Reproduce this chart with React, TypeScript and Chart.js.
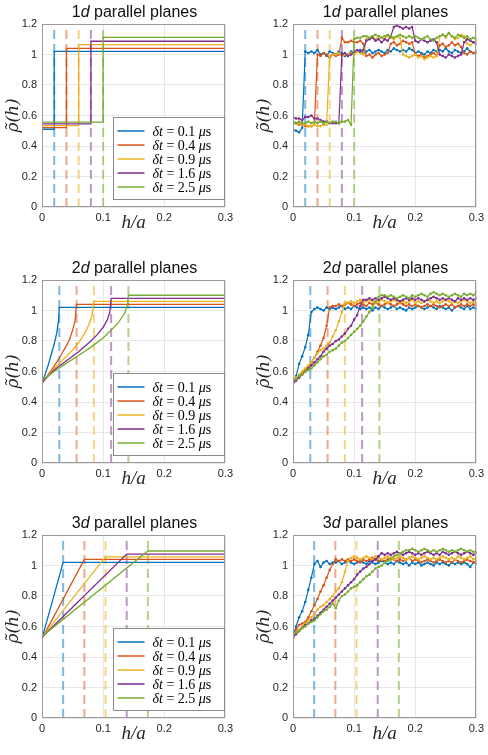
import React, { useEffect, useRef } from 'react';
import { Chart, registerables } from 'chart.js';
Chart.register(...registerables);

// ---------- labels / categories ----------
const DT_LABELS = ['0.1', '0.4', '0.9', '1.6', '2.5'];
const X_TICKS = [0, 0.1, 0.2, 0.3];
const Y_TICKS = [0, 0.2, 0.4, 0.6, 0.8, 1, 1.2];

// dashed reference positions h0 for each dimension
const H0_1D = [0.02, 0.04, 0.06, 0.08, 0.1];
const H0_2D = [0.0283, 0.0566, 0.0849, 0.1131, 0.1414];
const H0_3D = [0.0346, 0.0693, 0.1039, 0.1386, 0.1732];

// ---------- theory curves (left column) ----------
const T1_BLUE_X = [0, 0.02, 0.02, 0.3];
const T1_BLUE_Y = [0.51, 0.51, 1.02, 1.02];
const T1_ORANGE_X = [0, 0.04, 0.04, 0.3];
const T1_ORANGE_Y = [0.52, 0.52, 1.04, 1.04];
const T1_YELLOW_X = [0, 0.06, 0.06, 0.3];
const T1_YELLOW_Y = [0.533, 0.533, 1.065, 1.065];
const T1_PURPLE_X = [0, 0.08, 0.08, 0.3];
const T1_PURPLE_Y = [0.545, 0.545, 1.087, 1.087];
const T1_GREEN_X = [0, 0.1, 0.1, 0.3];
const T1_GREEN_Y = [0.557, 0.557, 1.112, 1.112];

const T2_BLUE_X = [0, 0.005, 0.01, 0.015, 0.02, 0.024, 0.027, 0.0283, 0.3];
const T2_BLUE_Y = [0.52, 0.58, 0.64, 0.71, 0.78, 0.85, 0.93, 1.02, 1.02];
const T2_ORANGE_X = [0, 0.01, 0.02, 0.03, 0.04, 0.045, 0.05, 0.054, 0.0566, 0.3];
const T2_ORANGE_Y = [0.52, 0.58, 0.635, 0.7, 0.77, 0.81, 0.87, 0.93, 1.04, 1.04];
const T2_YELLOW_X = [0, 0.02, 0.04, 0.05, 0.06, 0.07, 0.077, 0.082, 0.0849, 0.3];
const T2_YELLOW_Y = [0.53, 0.62, 0.7, 0.74, 0.79, 0.85, 0.91, 0.97, 1.06, 1.06];
const T2_PURPLE_X = [0, 0.02, 0.04, 0.06, 0.08, 0.09, 0.1, 0.107, 0.111, 0.1131, 0.3];
const T2_PURPLE_Y = [0.53, 0.61, 0.67, 0.73, 0.8, 0.84, 0.89, 0.94, 0.99, 1.08, 1.08];
const T2_GREEN_X = [0, 0.02, 0.04, 0.06, 0.08, 0.1, 0.113, 0.125, 0.135, 0.14, 0.1414, 0.3];
const T2_GREEN_Y = [0.54, 0.6, 0.655, 0.705, 0.76, 0.82, 0.87, 0.92, 0.98, 1.04, 1.1, 1.1];

const T3_BLUE_X = [0, 0.0346, 0.3];
const T3_BLUE_Y = [0.52, 1.02, 1.02];
const T3_ORANGE_X = [0, 0.0693, 0.3];
const T3_ORANGE_Y = [0.52, 1.04, 1.04];
const T3_YELLOW_X = [0, 0.1039, 0.3];
const T3_YELLOW_Y = [0.53, 1.057, 1.057];
const T3_PURPLE_X = [0, 0.1386, 0.3];
const T3_PURPLE_Y = [0.53, 1.075, 1.075];
const T3_GREEN_X = [0, 0.1732, 0.3];
const T3_GREEN_Y = [0.535, 1.095, 1.095];

// ---------- simulation (right column) ----------
const H_SIM = [
  0, 0.005, 0.01, 0.015, 0.02, 0.025, 0.03, 0.035, 0.04, 0.045,
  0.05, 0.055, 0.06, 0.065, 0.07, 0.075, 0.08, 0.085, 0.09, 0.095,
  0.1, 0.105, 0.11, 0.115, 0.12, 0.125, 0.13, 0.135, 0.14, 0.145,
  0.15, 0.155, 0.16, 0.165, 0.17, 0.175, 0.18, 0.185, 0.19, 0.195,
  0.2, 0.205, 0.21, 0.215, 0.22, 0.225, 0.23, 0.235, 0.24, 0.245,
  0.25, 0.255, 0.26, 0.265, 0.27, 0.275, 0.28, 0.285, 0.29, 0.295,
  0.3,
];

const S1_BLUE = [
  0.51, 0.50, 0.49, 0.52, 1.02, 1.01, 1.02, 1.01, 1.03, 1.00,
  1.01, 0.99, 1.02, 1.01, 1.00, 1.02, 1.01, 0.99, 1.00, 1.02,
  1.01, 1.02, 1.03, 1.01, 1.02, 1.03, 1.01, 1.02, 1.03, 1.02,
  1.01, 1.03, 1.02, 1.04, 1.03, 1.02, 1.03, 1.02, 1.04, 1.03,
  1.01, 1.02, 1.01, 1.00, 1.02, 1.01, 1.03, 1.02, 1.03, 1.02,
  1.04, 1.02, 1.01, 1.03, 1.02, 1.01, 1.02, 1.04, 1.02, 1.01,
  1.02,
];
const S1_ORANGE = [
  0.55, 0.55, 0.54, 0.54, 0.53, 0.53, 0.53, 0.54, 1.00, 0.99,
  1.01, 1.00, 0.98, 1.00, 0.99, 1.00, 1.11, 1.08, 1.08, 1.09,
  1.08, 1.08, 1.09, 1.07, 0.99, 1.00, 0.98, 1.00, 1.01, 0.99,
  1.00, 1.01, 1.07, 1.08, 1.06, 1.07, 1.09, 1.08, 1.07, 1.08,
  1.00, 0.99, 1.00, 0.98, 0.99, 1.00, 1.01, 0.99, 1.06, 1.07,
  1.05, 1.06, 1.08, 1.06, 1.07, 1.05, 1.01, 1.00, 1.02, 1.01,
  1.01,
];
const S1_YELLOW = [
  0.56, 0.55, 0.55, 0.54, 0.54, 0.53, 0.53, 0.54, 0.53, 0.53,
  0.54, 0.54, 0.99, 1.00, 1.00, 1.01, 0.99, 1.00, 1.00, 1.01,
  1.00, 1.02, 1.01, 1.00, 1.10, 1.11, 1.12, 1.10, 1.12, 1.11,
  1.10, 1.12, 1.11, 1.10, 1.12, 1.11, 1.00, 0.99, 0.98, 0.99,
  1.00, 0.98, 0.99, 0.97, 0.98, 0.99, 0.98, 0.99, 1.12, 1.13,
  1.11, 1.14, 1.12, 1.10, 1.11, 1.13, 1.12, 1.07, 1.06, 1.08,
  1.09,
];
const S1_PURPLE = [
  0.59, 0.58, 0.58, 0.57, 0.59, 0.59, 0.60, 0.58, 0.58, 0.57,
  0.56, 0.56, 0.55, 0.55, 0.55, 0.55, 1.00, 1.01, 0.99, 1.00,
  1.02, 1.03, 1.02, 1.03, 1.09, 1.10, 1.11, 1.09, 1.10, 1.08,
  1.10, 1.09, 1.12, 1.18, 1.19, 1.18, 1.17, 1.18, 1.17, 1.18,
  1.09, 1.08, 1.10, 1.09, 1.08, 1.09, 1.10, 1.08, 1.00, 0.99,
  0.98, 1.00, 0.99, 0.98, 0.99, 1.00, 1.08, 1.10, 1.09, 1.08,
  1.07,
];
const S1_GREEN = [
  0.56, 0.55, 0.56, 0.55, 0.55, 0.56, 0.55, 0.56, 0.55, 0.56,
  0.55, 0.56, 0.55, 0.56, 0.56, 0.55, 0.56, 0.56, 0.57, 0.54,
  1.10, 1.11, 1.11, 1.12, 1.12, 1.11, 1.12, 1.13, 1.12, 1.11,
  1.12, 1.13, 1.12, 1.11, 1.12, 1.13, 1.12, 1.11, 1.12, 1.11,
  1.12, 1.11, 1.10, 1.11, 1.12, 1.10, 1.09, 1.11, 1.12, 1.13,
  1.12, 1.14, 1.12, 1.11, 1.13, 1.12, 1.11, 1.12, 1.10, 1.11,
  1.10,
];

const S2_BLUE = [
  0.53, 0.57, 0.65, 0.70, 0.76, 0.84, 0.99, 1.01, 1.02, 1.01,
  1.00, 1.02, 1.01, 1.02, 1.01, 1.02, 1.03, 1.01, 1.02, 1.01,
  1.03, 1.02, 1.01, 1.02, 1.01, 1.02, 1.00, 1.02, 1.01, 1.03,
  1.02, 1.01, 1.02, 1.03, 1.01, 1.02, 1.01, 1.00, 1.02, 1.01,
  1.02, 1.03, 1.02, 1.01, 1.02, 1.03, 1.02, 1.01, 1.03, 1.02,
  1.01, 1.02, 1.00, 1.02, 1.03, 1.02, 1.01, 1.03, 1.01, 1.02,
  1.01,
];
const S2_ORANGE = [
  0.53, 0.55, 0.57, 0.59, 0.61, 0.63, 0.66, 0.69, 0.73, 0.77,
  0.82, 0.90, 1.02, 1.03, 1.03, 1.04, 1.03, 1.04, 1.05, 1.04,
  1.03, 1.04, 1.05, 1.04, 1.03, 1.05, 1.04, 1.05, 1.04, 1.03,
  1.04, 1.05, 1.04, 1.03, 1.04, 1.05, 1.04, 1.03, 1.04, 1.03,
  1.04, 1.03, 1.02, 1.03, 1.04, 1.03, 1.04, 1.03, 1.02, 1.03,
  1.04, 1.03, 1.04, 1.02, 1.03, 1.04, 1.03, 1.04, 1.03, 1.04,
  1.03,
];
const S2_YELLOW = [
  0.54, 0.56, 0.58, 0.60, 0.62, 0.64, 0.66, 0.69, 0.72, 0.74,
  0.75, 0.77, 0.79, 0.83, 0.87, 0.93, 0.99, 1.05, 1.05, 1.06,
  1.05, 1.06, 1.07, 1.05, 1.06, 1.07, 1.06, 1.05, 1.06, 1.07,
  1.06, 1.05, 1.06, 1.07, 1.06, 1.05, 1.06, 1.05, 1.06, 1.07,
  1.05, 1.06, 1.05, 1.06, 1.07, 1.06, 1.05, 1.06, 1.05, 1.06,
  1.07, 1.06, 1.05, 1.06, 1.05, 1.06, 1.07, 1.06, 1.05, 1.06,
  1.05,
];
const S2_PURPLE = [
  0.52, 0.54, 0.56, 0.58, 0.60, 0.62, 0.64, 0.66, 0.68, 0.70,
  0.73, 0.75, 0.77, 0.78, 0.80, 0.81, 0.83, 0.85, 0.88, 0.90,
  0.94, 0.97, 1.03, 1.07, 1.07, 1.08, 1.07, 1.08, 1.07, 1.08,
  1.09, 1.08, 1.07, 1.08, 1.07, 1.06, 1.07, 1.08, 1.07, 1.08,
  1.07, 1.08, 1.07, 1.06, 1.07, 1.08, 1.09, 1.08, 1.07, 1.08,
  1.07, 1.08, 1.07, 1.06, 1.08, 1.07, 1.08, 1.07, 1.08, 1.07,
  1.08,
];
const S2_GREEN = [
  0.54, 0.55, 0.57, 0.58, 0.60, 0.61, 0.62, 0.64, 0.66, 0.68,
  0.70, 0.71, 0.73, 0.74, 0.75, 0.77, 0.79, 0.80, 0.82, 0.84,
  0.86, 0.88, 0.90, 0.93, 0.96, 0.99, 1.02, 1.06, 1.09, 1.10,
  1.10, 1.09, 1.10, 1.09, 1.08, 1.09, 1.10, 1.09, 1.08, 1.10,
  1.09, 1.10, 1.11, 1.10, 1.09, 1.11, 1.12, 1.11, 1.10, 1.11,
  1.10, 1.09, 1.10, 1.11, 1.10, 1.09, 1.11, 1.10, 1.11, 1.10,
  1.12,
];

const S3_BLUE = [
  0.53, 0.60, 0.66, 0.70, 0.76, 0.84, 0.92, 1.01, 1.03, 0.99,
  1.02, 1.03, 1.01, 1.02, 1.02, 1.03, 1.01, 1.02, 1.03, 1.02,
  1.01, 1.02, 1.03, 1.02, 1.01, 1.03, 1.02, 1.01, 1.02, 1.03,
  1.02, 1.01, 1.02, 1.01, 1.03, 1.02, 1.01, 1.02, 1.00, 1.02,
  1.01, 1.02, 1.00, 1.01, 1.02, 1.01, 1.00, 1.02, 1.01, 1.02,
  1.01, 1.00, 1.02, 1.01, 1.02, 1.01, 1.02, 1.01, 0.99, 1.02,
  1.01,
];
const S3_ORANGE = [
  0.52, 0.58, 0.61, 0.62, 0.63, 0.66, 0.70, 0.74, 0.78, 0.83,
  0.87, 0.92, 0.97, 1.01, 1.04, 1.03, 1.04, 1.03, 1.04, 1.03,
  1.04, 1.03, 1.02, 1.04, 1.03, 1.04, 1.05, 1.04, 1.03, 1.04,
  1.03, 1.04, 1.05, 1.04, 1.03, 1.04, 1.03, 1.04, 1.05, 1.03,
  1.04, 1.03, 1.02, 1.03, 1.04, 1.03, 1.02, 1.03, 1.04, 1.03,
  1.02, 1.03, 1.02, 1.04, 1.03, 1.02, 1.03, 1.04, 1.03, 1.02,
  1.03,
];
const S3_YELLOW = [
  0.54, 0.56, 0.58, 0.60, 0.62, 0.64, 0.66, 0.68, 0.71, 0.73,
  0.74, 0.76, 0.78, 0.80, 0.83, 0.85, 0.89, 0.96, 1.03, 1.05,
  1.06, 1.05, 1.04, 1.05, 1.06, 1.05, 1.04, 1.06, 1.05, 1.04,
  1.05, 1.06, 1.05, 1.04, 1.05, 1.06, 1.05, 1.04, 1.05, 1.06,
  1.05, 1.04, 1.05, 1.06, 1.05, 1.04, 1.05, 1.04, 1.05, 1.06,
  1.05, 1.04, 1.05, 1.04, 1.06, 1.05, 1.04, 1.05, 1.06, 1.04,
  1.05,
];
const S3_PURPLE = [
  0.53, 0.55, 0.57, 0.59, 0.61, 0.62, 0.64, 0.65, 0.67, 0.69,
  0.71, 0.73, 0.75, 0.77, 0.79, 0.81, 0.83, 0.85, 0.87, 0.89,
  0.91, 0.94, 0.96, 0.98, 0.99, 1.01, 1.03, 1.04, 1.06, 1.08,
  1.07, 1.08, 1.07, 1.08, 1.09, 1.08, 1.07, 1.08, 1.09, 1.08,
  1.07, 1.08, 1.07, 1.08, 1.09, 1.08, 1.07, 1.08, 1.07, 1.09,
  1.08, 1.07, 1.08, 1.09, 1.08, 1.07, 1.08, 1.09, 1.08, 1.07,
  1.08,
];
const S3_GREEN = [
  0.55, 0.56, 0.57, 0.59, 0.60, 0.62, 0.63, 0.64, 0.66, 0.68,
  0.70, 0.71, 0.73, 0.75, 0.72, 0.77, 0.80, 0.81, 0.83, 0.85,
  0.86, 0.87, 0.89, 0.91, 0.93, 0.94, 0.96, 0.98, 0.99, 1.00,
  1.02, 1.03, 1.04, 1.06, 1.07, 1.08, 1.09, 1.10, 1.10, 1.11,
  1.10, 1.09, 1.10, 1.11, 1.10, 1.09, 1.10, 1.09, 1.10, 1.11,
  1.10, 1.09, 1.10, 1.09, 1.10, 1.11, 1.10, 1.09, 1.10, 1.09,
  1.09,
];

// ---------- styles ----------
const COLORS = ['#0072BD', '#D95319', '#EDB120', '#7E2F8E', '#77AC30'];
const DASH_COLORS = [
  'rgba(0,114,189,0.5)',
  'rgba(217,83,25,0.5)',
  'rgba(237,177,32,0.55)',
  'rgba(126,47,142,0.5)',
  'rgba(119,172,48,0.55)',
];

const zip = (xs: number[], ys: number[]) => xs.map((x, i) => ({ x, y: ys[i] }));

const framePlugin = {
  id: 'mframe',
  afterDatasetsDraw(chart: any) {
    const { ctx, chartArea: a } = chart;
    ctx.save();
    ctx.strokeStyle = '#9a9a9a';
    ctx.lineWidth = 1;
    ctx.strokeRect(Math.round(a.left) + 0.5, Math.round(a.top) + 0.5, Math.round(a.right - a.left) - 1, Math.round(a.bottom - a.top) - 1);
    ctx.restore();
  },
};

const legendPlugin = {
  id: 'mlegend',
  afterDraw(chart: any, _args: any, opts: any) {
    if (!opts || !opts.show) return;
    const { ctx, chartArea: a } = chart;
    const w = 111;
    const h = 82;
    const x0 = Math.round(a.right - 1 - w) + 0.5;
    const y0 = Math.round(a.bottom - 8 - h) + 0.5;
    ctx.save();
    ctx.fillStyle = '#ffffff';
    ctx.fillRect(x0, y0, w, h);
    ctx.strokeStyle = '#8a8a8a';
    ctx.lineWidth = 1;
    ctx.strokeRect(x0, y0, w, h);
    const labels: string[] = opts.labels;
    labels.forEach((lab, i) => {
      const cy = Math.round(y0 + 13 + i * 14);
      ctx.strokeStyle = COLORS[i];
      ctx.lineWidth = 1.5;
      ctx.beginPath();
      ctx.moveTo(x0 + 4, cy);
      ctx.lineTo(x0 + 31, cy);
      ctx.stroke();
      let x = x0 + 39;
      const parts: [string, string][] = [
        ['δt', 'italic'],
        [' = ' + lab + ' ', 'normal'],
        ['μ', 'italic'],
        ['s', 'normal'],
      ];
      ctx.fillStyle = '#000';
      ctx.textBaseline = 'middle';
      ctx.textAlign = 'left';
      for (const [t, st] of parts) {
        ctx.font = `${st} 14px "Liberation Serif", "Times New Roman", serif`;
        ctx.fillText(t, x, cy + 1);
        x += ctx.measureText(t).width;
      }
    });
    ctx.restore();
  },
};

type PanelProps = {
  left: number;
  top: number;
  dim: string;
  series: { x: number; y: number }[][];
  h0: number[];
  simulated: boolean;
};

function Panel({ left, top, dim, series, h0, simulated }: PanelProps) {
  const ref = useRef<HTMLCanvasElement | null>(null);
  useEffect(() => {
    if (!ref.current) return;
    const datasets: any[] = [];
    series.forEach((s, i) => {
      datasets.push({
        data: s,
        borderColor: COLORS[i],
        backgroundColor: COLORS[i],
        borderWidth: simulated ? 1.2 : 1.3,
        pointRadius: simulated ? 1.3 : 0,
        pointBorderWidth: 0,
        pointHoverRadius: 0,
        tension: 0,
        order: 5 - i,
      });
    });
    h0.forEach((hv, i) => {
      datasets.push({
        data: [
          { x: hv, y: Y_TICKS[0] },
          { x: hv, y: Y_TICKS[Y_TICKS.length - 1] },
        ],
        borderColor: DASH_COLORS[i],
        borderWidth: 2,
        borderDash: [9, 5],
        pointRadius: 0,
        order: 10,
      });
    });
    const tickFont = { family: '"Liberation Sans", Arial, sans-serif', size: 11 };
    const chart = new Chart(ref.current, {
      type: 'line',
      data: { datasets },
      plugins: [framePlugin, legendPlugin],
      options: {
        animation: false,
        responsive: false,
        devicePixelRatio: 1,
        events: [],
        layout: { padding: { top: 24, right: 10, left: 0, bottom: 0 } },
        plugins: {
          legend: { display: false },
          tooltip: { enabled: false },
          title: { display: false },
          mlegend: { show: !simulated, labels: DT_LABELS },
        } as any,
        scales: {
          x: {
            type: 'linear',
            min: X_TICKS[0],
            max: X_TICKS[X_TICKS.length - 1],
            afterBuildTicks: (scale: any) => {
              scale.ticks = X_TICKS.map((v) => ({ value: v }));
            },
            afterFit: (scale: any) => {
              scale.height = 43;
            },
            grid: { color: '#e8e8e8', drawTicks: false, lineWidth: 1 },
            border: { display: false },
            ticks: {
              autoSkip: false,
              maxRotation: 0,
              padding: 4,
              color: '#262626',
              font: tickFont,
              callback: (v: any) => String(Math.round(Number(v) * 10) / 10),
            },
            title: {
              display: true,
              text: 'h/a',
              color: '#262626',
              font: { family: '"Liberation Serif", "Times New Roman", serif', size: 19, style: 'italic' },
              padding: { top: 0, bottom: 16 },
            },
          },
          y: {
            type: 'linear',
            min: Y_TICKS[0],
            max: Y_TICKS[Y_TICKS.length - 1],
            afterBuildTicks: (scale: any) => {
              scale.ticks = Y_TICKS.map((v) => ({ value: v }));
            },
            afterFit: (scale: any) => {
              scale.width = 42;
            },
            grid: { color: '#e8e8e8', drawTicks: false, lineWidth: 1 },
            border: { display: false },
            ticks: {
              autoSkip: false,
              padding: 5,
              color: '#262626',
              font: tickFont,
              callback: (v: any) => String(Math.round(Number(v) * 10) / 10),
            },
            title: {
              display: true,
              text: 'ρ̃(h)',
              color: '#262626',
              font: { family: '"DejaVu Serif", "Liberation Serif", serif', size: 17, style: 'italic' },
              padding: { top: 3, bottom: 0 },
            },
          },
        },
      } as any,
    });
    return () => chart.destroy();
  }, []);

  return (
    <>
      <canvas
        ref={ref}
        width={237}
        height={250}
        style={{ position: 'absolute', left, top, width: 237, height: 250 }}
      />
      <div
        style={{
          position: 'absolute',
          left: left + 42,
          top: top + 3,
          width: 185,
          textAlign: 'center',
          font: '16px "Liberation Sans", Arial, sans-serif',
          lineHeight: '18px',
          color: '#111',
          whiteSpace: 'nowrap',
        }}
      >
        {dim}
        <i>d</i> parallel planes
      </div>
    </>
  );
}

export default function App() {
  const theory1 = [
    zip(T1_BLUE_X, T1_BLUE_Y),
    zip(T1_ORANGE_X, T1_ORANGE_Y),
    zip(T1_YELLOW_X, T1_YELLOW_Y),
    zip(T1_PURPLE_X, T1_PURPLE_Y),
    zip(T1_GREEN_X, T1_GREEN_Y),
  ];
  const theory2 = [
    zip(T2_BLUE_X, T2_BLUE_Y),
    zip(T2_ORANGE_X, T2_ORANGE_Y),
    zip(T2_YELLOW_X, T2_YELLOW_Y),
    zip(T2_PURPLE_X, T2_PURPLE_Y),
    zip(T2_GREEN_X, T2_GREEN_Y),
  ];
  const theory3 = [
    zip(T3_BLUE_X, T3_BLUE_Y),
    zip(T3_ORANGE_X, T3_ORANGE_Y),
    zip(T3_YELLOW_X, T3_YELLOW_Y),
    zip(T3_PURPLE_X, T3_PURPLE_Y),
    zip(T3_GREEN_X, T3_GREEN_Y),
  ];
  const sim1 = [S1_BLUE, S1_ORANGE, S1_YELLOW, S1_PURPLE, S1_GREEN].map((s) => zip(H_SIM, s));
  const sim2 = [S2_BLUE, S2_ORANGE, S2_YELLOW, S2_PURPLE, S2_GREEN].map((s) => zip(H_SIM, s));
  const sim3 = [S3_BLUE, S3_ORANGE, S3_YELLOW, S3_PURPLE, S3_GREEN].map((s) => zip(H_SIM, s));

  return (
    <div
      style={{
        position: 'fixed',
        left: 0,
        top: 0,
        width: 488,
        height: 755,
        background: '#ffffff',
        overflow: 'hidden',
      }}
    >
      <Panel left={0} top={0} dim="1" series={theory1} h0={H0_1D} simulated={false} />
      <Panel left={251} top={0} dim="1" series={sim1} h0={H0_1D} simulated={true} />
      <Panel left={0} top={256} dim="2" series={theory2} h0={H0_2D} simulated={false} />
      <Panel left={251} top={256} dim="2" series={sim2} h0={H0_2D} simulated={true} />
      <Panel left={0} top={511} dim="3" series={theory3} h0={H0_3D} simulated={false} />
      <Panel left={251} top={511} dim="3" series={sim3} h0={H0_3D} simulated={true} />
    </div>
  );
}
